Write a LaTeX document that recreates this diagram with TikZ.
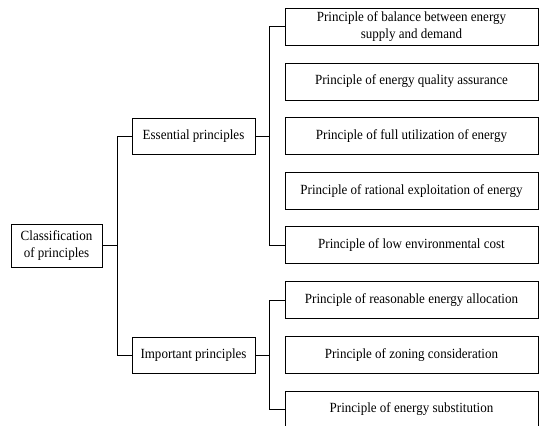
\documentclass[tikz,border=0pt]{standalone}
\usepackage{fontspec}
\setmainfont[FakeStretch=0.93]{Liberation Serif}
\begin{document}
\begin{tikzpicture}[x=1pt,y=-1pt,
  box/.style={draw=black,line width=0.9pt,fill=white,inner sep=0pt,align=center,
    font=\fontsize{14}{16.5}\selectfont},
  rbox/.style={box,minimum width=253pt,minimum height=37pt},
  mbox/.style={box,minimum width=123pt,minimum height=36pt},
  conn/.style={draw=black,line width=0.9pt}]
\useasboundingbox (0,0) rectangle (539,426);
\fill[white] (0,0) rectangle (539,426);
\node[box,minimum width=91pt,minimum height=43pt] (cls) at (56.5,245.5) {Classification\\of principles};
\node[mbox] (ess) at (193.5,136) {Essential principles};
\node[mbox] (imp) at (193.5,355) {Important principles};
\node[rbox] (r1) at (411.5,26.5) {Principle of balance between energy\\supply and demand};
\node[rbox] (r2) at (411.5,81.5) {Principle of energy quality assurance};
\node[rbox] (r3) at (411.5,136) {Principle of full utilization of energy};
\node[rbox] (r4) at (411.5,191) {Principle of rational exploitation of energy};
\node[rbox] (r5) at (411.5,245) {Principle of low environmental cost};
\node[rbox] (r6) at (411.5,300) {Principle of reasonable energy allocation};
\node[rbox] (r7) at (411.5,355) {Principle of zoning consideration};
\node[rbox] (r8) at (411.5,409.5) {Principle of energy substitution};
\coordinate (j1) at (117.5,245.5);
\coordinate (j2) at (269.5,136);
\coordinate (j3) at (269.5,355);
\draw[conn] (cls.east) -- (j1);
\draw[conn] (ess.west) -| (j1) |- (imp.west);
\draw[conn] (ess.east) -- (j2);
\draw[conn] (r1.west) -| (j2) |- (r5.west);
\draw[conn] (imp.east) -- (j3);
\draw[conn] (r6.west) -| (j3) |- (r8.west);
\end{tikzpicture}
\end{document}
